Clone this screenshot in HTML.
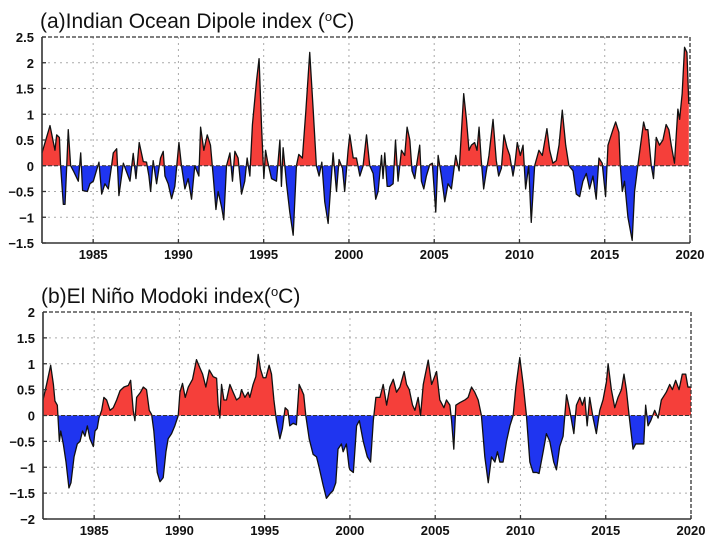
<!DOCTYPE html>
<html><head><meta charset="utf-8">
<style>
html,body{margin:0;padding:0;background:#fff;}
svg{display:block;font-family:"Liberation Sans",sans-serif;}
.tick{font-size:13px;font-weight:bold;fill:#111;}
.title{font-size:21px;fill:#111;}
</style></head>
<body>
<svg id="chart" width="708" height="550" viewBox="0 0 708 550"></svg>
<script>
// Panel (a) Indian Ocean Dipole index
const iodYears = [1982.00,1982.47,1982.76,1982.86,1983.02,1983.09,1983.25,1983.35,1983.45,1983.54,1983.68,1983.84,1984.13,1984.27,1984.38,1984.66,1984.81,1985.01,1985.34,1985.50,1985.69,1985.89,1986.08,1986.18,1986.38,1986.51,1986.77,1987.16,1987.35,1987.51,1987.70,1987.94,1988.13,1988.27,1988.37,1988.52,1988.72,1988.95,1989.11,1989.21,1989.40,1989.60,1989.79,1990.03,1990.18,1990.38,1990.57,1990.77,1990.96,1991.20,1991.30,1991.49,1991.69,1991.88,1992.04,1992.20,1992.33,1992.53,1992.66,1992.82,1993.02,1993.17,1993.31,1993.50,1993.70,1993.89,1994.03,1994.19,1994.34,1994.58,1994.73,1994.87,1995.01,1995.11,1995.22,1995.46,1995.75,1995.95,1996.04,1996.14,1996.34,1996.53,1996.73,1996.92,1997.06,1997.27,1997.47,1997.70,1997.90,1998.09,1998.25,1998.41,1998.58,1998.78,1998.91,1999.07,1999.27,1999.42,1999.62,1999.75,1999.95,
2000.05,2000.25,2000.44,2000.64,2000.83,2001.03,2001.22,2001.42,2001.57,2001.71,2001.91,2002.00,2002.10,2002.24,2002.39,2002.59,2002.73,2002.88,2003.08,2003.27,2003.41,2003.57,2003.70,2003.86,2003.96,2004.15,2004.25,2004.39,2004.54,2004.74,2004.89,2005.09,2005.23,2005.42,2005.62,2005.81,2006.01,2006.26,2006.46,2006.73,2006.89,2007.04,2007.18,2007.37,2007.51,2007.63,2007.76,2007.90,2008.06,2008.21,2008.45,2008.64,2008.78,2008.94,2009.09,2009.27,2009.43,2009.62,2009.72,2009.87,2010.05,2010.21,2010.36,2010.54,2010.69,2010.89,2011.14,2011.34,2011.61,2011.77,2011.96,2012.16,2012.32,2012.51,2012.71,2012.90,2013.14,2013.33,2013.53,2013.72,2013.92,2014.11,2014.31,2014.50,2014.66,2014.85,2015.05,2015.19,2015.48,2015.64,2015.83,2015.91,2016.03,2016.16,2016.36,2016.61,2016.75,2016.94,2017.04,2017.28,2017.39,2017.53,2017.73,2017.86,2018.02,2018.21,2018.41,2018.60,2018.76,2018.90,2019.09,2019.29,2019.39,2019.54,2019.68,2019.82,2019.93];
const iodValues = [0.25,0.78,0.3,0.6,0.55,0,-0.75,-0.75,0,0.7,0,-0.1,-0.3,0.25,-0.48,-0.5,-0.35,-0.3,0.07,-0.55,-0.35,-0.45,0,0.25,0.33,-0.58,0.05,-0.3,0.24,-0.25,0.45,0.08,0.07,-0.2,-0.5,0.1,-0.35,0.15,0.28,-0.2,-0.35,-0.64,-0.4,0.45,0,-0.45,-0.25,-0.65,0,-0.2,0.75,0.3,0.6,0.4,-0.2,-0.85,-0.5,-0.8,-1.05,0,0.25,-0.3,0.28,0.15,-0.55,-0.3,0.15,-0.2,0.8,1.65,2.08,0.8,-0.25,0.3,0.1,-0.25,-0.3,0.5,-0.4,0.35,-0.35,-0.9,-1.35,0,0.22,0.15,1.05,2.2,1.1,0,-0.2,0.07,-0.7,-1.12,-0.5,0.25,-0.5,0.12,-0.05,-0.5,0.3,
0.6,0.15,0.15,-0.2,0,0.6,0,-0.15,-0.65,-0.5,0.2,-0.25,0.25,-0.4,-0.4,-0.35,0.5,-0.3,0.3,0.2,0.75,0.5,-0.1,-0.25,0,0.4,-0.3,-0.45,-0.2,0.02,0.05,-0.9,0.2,-0.2,-0.7,-0.35,-0.45,0.2,-0.1,1.4,0.9,0.3,0.4,0.45,0.3,0.75,0.1,-0.45,-0.1,0.2,0.9,0.1,-0.2,-0.05,0.6,0.35,0.2,-0.2,0,0.45,0.2,0.4,-0.45,0,-1.1,0,0.3,0.2,0.72,0.3,0.05,0.1,0.4,1.08,0.4,0,-0.1,-0.55,-0.6,-0.3,-0.15,-0.45,-0.2,-0.65,0.15,0.05,-0.6,0.4,0.7,0.85,0.65,0,-0.5,-0.3,-1.0,-1.45,-0.5,0,0.25,0.85,0.7,0.7,0,-0.25,0.55,0.4,0.5,0.8,0.7,0.4,0.05,1.1,0.9,1.4,2.3,2.2,1.2];

// Panel (b) El Nino Modoki index
const emiYears = [1982.00,1982.21,1982.45,1982.61,1982.70,1982.84,1982.96,1983.04,1983.19,1983.35,1983.52,1983.64,1983.82,1984.01,1984.17,1984.32,1984.46,1984.60,1984.75,1984.95,1985.05,1985.18,1985.28,1985.44,1985.57,1985.73,1985.93,1986.12,1986.32,1986.52,1986.75,1987.00,1987.14,1987.29,1987.39,1987.49,1987.72,1987.88,1988.07,1988.23,1988.37,1988.50,1988.70,1988.86,1989.05,1989.21,1989.34,1989.54,1989.73,1989.93,1990.03,1990.18,1990.34,1990.52,1990.77,1991.00,1991.20,1991.36,1991.55,1991.75,1991.98,1992.18,1992.27,1992.37,1992.47,1992.61,1992.76,1992.96,1993.15,1993.35,1993.54,1993.64,1993.84,1994.03,1994.13,1994.32,1994.48,1994.62,1994.75,1994.91,1995.07,1995.26,1995.40,1995.54,1995.69,1995.89,1996.04,1996.20,1996.36,1996.47,1996.67,1996.86,1997.02,1997.16,1997.29,1997.41,1997.61,1997.84,1998.04,1998.19,1998.43,1998.62,1998.86,1999.01,1999.17,1999.30,1999.50,1999.60,1999.79,1999.95,
2000.00,2000.20,2000.39,2000.55,2000.78,2001.02,2001.21,2001.37,2001.52,2001.76,2001.95,2002.15,2002.34,2002.54,2002.73,2002.93,2003.18,2003.32,2003.48,2003.67,2003.81,2004.00,2004.14,2004.30,2004.59,2004.79,2005.08,2005.27,2005.51,2005.66,2005.86,2005.96,2006.09,2006.21,2006.45,2006.74,2006.93,2007.13,2007.32,2007.52,2007.71,2007.91,2008.11,2008.30,2008.50,2008.65,2008.79,2008.98,2009.18,2009.38,2009.57,2009.73,2009.96,2010.16,2010.35,2010.55,2010.74,2010.94,2011.09,2011.33,2011.52,2011.72,2011.95,2012.11,2012.30,2012.50,2012.70,2012.89,2013.13,2013.28,2013.48,2013.63,2013.77,2013.91,2014.06,2014.26,2014.45,2014.65,2014.84,2015.04,2015.14,2015.33,2015.53,2015.72,2015.92,2016.07,2016.21,2016.37,2016.60,2016.76,2016.99,2017.23,2017.34,2017.48,2017.64,2017.87,2018.07,2018.26,2018.55,2018.75,2018.91,2019.10,2019.30,2019.49,2019.69,2019.82,2020.00];
const emiValues = [0.3,0.6,0.97,0.6,0.28,0.2,-0.5,-0.3,-0.55,-0.9,-1.4,-1.3,-0.8,-0.55,-0.5,-0.3,-0.4,-0.2,-0.45,-0.6,-0.3,-0.25,-0.05,0.1,0.35,0.3,0.1,0.15,0.3,0.48,0.55,0.58,0.68,0.1,-0.1,0.35,0.45,0.55,0.5,0.1,0.02,-0.3,-1.1,-1.28,-1.2,-0.7,-0.45,-0.35,-0.2,0,0.45,0.62,0.35,0.55,0.7,1.08,0.92,0.8,0.55,0.88,0.75,0.72,0.2,-0.05,0.6,0.3,0.3,0.6,0.45,0.3,0.35,0.5,0.35,0.45,0.35,0.6,0.75,1.18,0.9,0.73,0.73,0.97,0.8,0.3,-0.1,-0.45,-0.25,0.15,0.1,-0.2,-0.15,-0.18,0.6,0.5,0.4,0,-0.45,-0.75,-0.8,-1.0,-1.35,-1.6,-1.5,-1.45,-1.3,-0.65,-0.55,-0.7,-0.55,-1.0,
-1.05,-1.1,-0.2,-0.1,-0.5,-0.8,-0.9,-0.1,0.35,0.35,0.6,0.2,0.55,0.7,0.45,0.55,0.85,0.6,0.5,0.2,0.1,0.35,0,0.6,1.07,0.6,0.85,0.3,0.15,0.3,0.2,-0.1,-0.65,0.2,0.25,0.3,0.35,0.55,0.45,0.3,0,-0.8,-1.3,-0.8,-0.9,-0.7,-0.9,-0.9,-0.5,-0.2,0,0.55,1.12,0.6,0,-0.9,-1.1,-1.1,-1.12,-0.7,-0.35,-0.5,-0.9,-1.05,-0.6,-0.4,0.4,0.1,-0.35,0.2,0.35,0.2,0.35,-0.2,0.35,-0.05,-0.35,0.1,0.3,0.65,1.0,0.5,0.15,0.35,0.5,0.8,0.5,0,-0.65,-0.55,-0.55,-0.55,0.2,-0.2,-0.1,0.1,-0.05,0.3,0.45,0.6,0.5,0.68,0.5,0.8,0.8,0.55,0.55];

const xTickYears = [1985,1990,1995,2000,2005,2010,2015,2020];
const iodTicks = [2.5,2,1.5,1,0.5,0,-0.5,-1,-1.5];
const emiTicks = [2,1.5,1,0.5,0,-0.5,-1,-1.5,-2];

const NS = "http://www.w3.org/2000/svg";
const svg = document.getElementById("chart");
function mk(tag, attrs, parent){
  const e = document.createElementNS(NS, tag);
  for (const k in attrs) e.setAttribute(k, attrs[k]);
  (parent||svg).appendChild(e);
  return e;
}

function panel(id, cfg, years, values, ticks, titleText){
  const g = mk("g", {});
  
  
  const xs = t => cfg.x0 + (t - 1982) / 38 * (cfg.x1 - cfg.x0);
  const ys = v => cfg.y0 + (cfg.vmax - v) / (cfg.vmax - cfg.vmin) * (cfg.y1 - cfg.y0);
  const zy = ys(0);

  // title
  const tt = mk("text", {x: cfg.x0 - 2, y: cfg.y0 - 9, class: "title"}, g);
  
  
  tt.innerHTML = titleText;

  // grid
  ticks.forEach(v => {
    if (v === cfg.vmax || v === cfg.vmin) return;
    const l = mk("line", {x1: cfg.x0, x2: cfg.x1, y1: ys(v), y2: ys(v), stroke: "#aaa", "stroke-width": 1, "stroke-dasharray": "2,4"}, g);
    
    
  });
  xTickYears.forEach(yr => {
    if (yr >= 2020) return;
    const l = mk("line", {x1: xs(yr), x2: xs(yr), y1: cfg.y0, y2: cfg.y1, stroke: "#aaa", "stroke-width": 1, "stroke-dasharray": "2,4"}, g);
    
    
  });

  // area
  let d = "M" + xs(years[0]).toFixed(2) + "," + zy.toFixed(2);
  let line = "";
  years.forEach((t, i) => {
    const p = xs(t).toFixed(2) + "," + ys(values[i]).toFixed(2);
    d += " L" + p;
    line += (i ? " L" : "M") + p;
  });
  d += " L" + xs(years[years.length-1]).toFixed(2) + "," + zy.toFixed(2) + " Z";

  const defs = mk("defs", {}, g);
  const cpPos = mk("clipPath", {id: id + "-pos"}, defs);
  mk("rect", {x: cfg.x0, y: cfg.y0, width: cfg.x1 - cfg.x0, height: zy - cfg.y0}, cpPos);
  const cpNeg = mk("clipPath", {id: id + "-neg"}, defs);
  mk("rect", {x: cfg.x0, y: zy, width: cfg.x1 - cfg.x0, height: cfg.y1 - zy}, cpNeg);

  const pos = mk("path", {d: d, fill: "#f53f3a", "clip-path": "url(#" + id + "-pos)"}, g);
  
  
  const neg = mk("path", {d: d, fill: "#1f35f0", "clip-path": "url(#" + id + "-neg)"}, g);
  
  
  const ln = mk("path", {d: line, fill: "none", stroke: "#111", "stroke-width": 1.3, "stroke-linejoin": "round"}, g);
  
  

  const zl = mk("line", {x1: cfg.x0, x2: cfg.x1, y1: zy, y2: zy, stroke: "#333", "stroke-width": 1, "stroke-dasharray": "4,2"}, g);
  
  

  // frame
  const top = mk("line", {x1: cfg.x0, x2: cfg.x1, y1: cfg.y0, y2: cfg.y0, stroke: "#333", "stroke-width": 1.3, "stroke-dasharray": "4,2"}, g);
  
  
  const right = mk("line", {x1: cfg.x1, x2: cfg.x1, y1: cfg.y0, y2: cfg.y1, stroke: "#333", "stroke-width": 1.3, "stroke-dasharray": "4,2"}, g);
  
  
  const left = mk("line", {x1: cfg.x0, x2: cfg.x0, y1: cfg.y0, y2: cfg.y1, stroke: "#333", "stroke-width": 1.6}, g);
  
  
  const bottom = mk("line", {x1: cfg.x0, x2: cfg.x1, y1: cfg.y1, y2: cfg.y1, stroke: "#333", "stroke-width": 1.6}, g);
  
  

  // y ticks
  ticks.forEach(v => {
    const tk = mk("line", {x1: cfg.x0, x2: cfg.x0 + 4, y1: ys(v), y2: ys(v), stroke: "#333", "stroke-width": 1.3}, g);
    
    
    const lb = mk("text", {x: cfg.x0 - 8, y: ys(v) + 5, "text-anchor": "end", class: "tick"}, g);
    
    
    lb.textContent = String(v).replace("-", "\u2212");
  });
  // x ticks
  xTickYears.forEach(yr => {
    const tk = mk("line", {x1: xs(yr), x2: xs(yr), y1: cfg.y1, y2: cfg.y1 - 4, stroke: "#333", "stroke-width": 1.3}, g);
    
    
    const lb = mk("text", {x: xs(yr), y: cfg.y1 + 16, "text-anchor": "middle", class: "tick"}, g);
    
    
    lb.textContent = yr;
  });
}

panel("iod", {x0: 42, x1: 690, y0: 37, y1: 243, vmax: 2.5, vmin: -1.5}, iodYears, iodValues, iodTicks,
  '(a)Indian Ocean Dipole index (<tspan baseline-shift="super" font-size="13">o</tspan>C)');
panel("emi", {x0: 43, x1: 691, y0: 312, y1: 519, vmax: 2, vmin: -2}, emiYears, emiValues, emiTicks,
  '(b)El Niño Modoki index(<tspan baseline-shift="super" font-size="13">o</tspan>C)');
</script>
</body></html>
